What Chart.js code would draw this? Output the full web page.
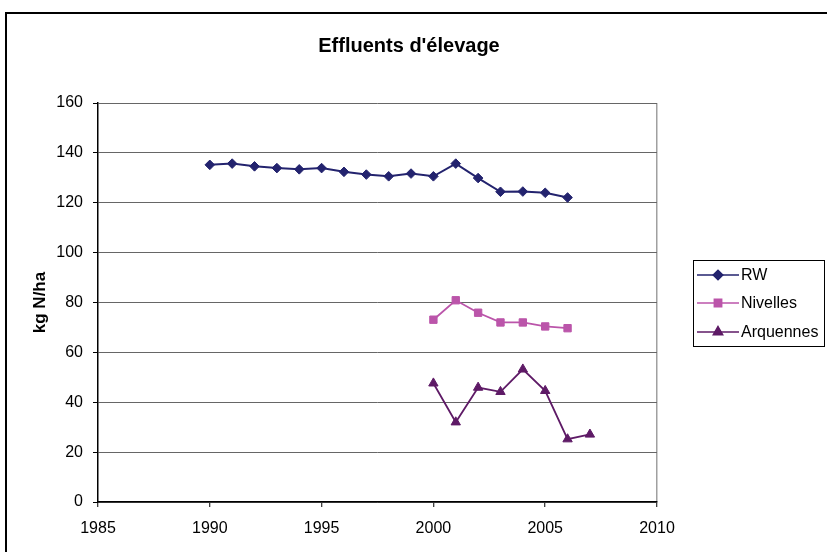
<!DOCTYPE html>
<html>
<head>
<meta charset="utf-8">
<title>Effluents d'élevage</title>
<script src="https://cdn.jsdelivr.net/npm/chart.js@4/dist/chart.umd.min.js"></script>
<style>
  html, body { margin: 0; padding: 0; background: #fff; overflow: hidden; }
  #wrap { position: relative; width: 827px; height: 552px; }
</style>
</head>
<body>
<div id="wrap"><canvas id="chart" width="827" height="552"></canvas></div>
<script>
// Years and values (kg N/ha) per region
const yearsRW = [1990, 1991, 1992, 1993, 1994, 1995, 1996, 1997, 1998, 1999, 2000, 2001, 2002, 2003, 2004, 2005, 2006];
const valuesRW = [135.2, 135.7, 134.6, 133.9, 133.4, 133.9, 132.4, 131.3, 130.6, 131.7, 130.6, 135.7, 129.9, 124.4, 124.5, 124.0, 122.1];

const yearsNivelles = [2000, 2001, 2002, 2003, 2004, 2005, 2006];
const valuesNivelles = [73.1, 80.9, 75.9, 72.0, 72.0, 70.4, 69.7];

const yearsArquennes = [2000, 2001, 2002, 2003, 2004, 2005, 2006, 2007];
const valuesArquennes = [47.6, 32.0, 45.9, 44.2, 53.2, 44.6, 25.2, 27.1];

const seriesNames = ['RW', 'Nivelles', 'Arquennes'];
const chartTitle = "Effluents d'élevage";
const yAxisTitle = 'kg N/ha';

const pairs = (xs, ys) => xs.map((x, i) => ({ x: x, y: ys[i] }));

const FONT = '"Liberation Sans", Arial, sans-serif';

// Outer frame, title and boxed legend
const decorations = {
  id: 'decorations',
  afterDraw(chart) {
    const ctx = chart.ctx;
    ctx.save();
    // frame
    ctx.strokeStyle = '#000';
    ctx.lineWidth = 2;
    ctx.strokeRect(6, 13, 900, 700);
    // title
    ctx.fillStyle = '#000';
    ctx.font = 'bold 20px ' + FONT;
    ctx.textAlign = 'center';
    ctx.textBaseline = 'middle';
    ctx.fillText(chartTitle, 409, 46);
    // legend box
    ctx.lineWidth = 1;
    ctx.strokeRect(693.5, 260.5, 131, 86);
    const rows = [275, 303, 332];
    chart.data.datasets.forEach((ds, i) => {
      const y = rows[i];
      ctx.strokeStyle = ds.borderColor;
      ctx.lineWidth = 1.5;
      ctx.beginPath();
      ctx.moveTo(697, y);
      ctx.lineTo(739, y);
      ctx.stroke();
      Chart.helpers.drawPoint(ctx, {
        pointStyle: ds.pointStyle,
        radius: ds.pointRadius,
        borderWidth: 1
      }, 718, y);
      ctx.fillStyle = ds.pointBackgroundColor;
      ctx.strokeStyle = ds.pointBorderColor;
      ctx.fill();
      ctx.fillStyle = '#000';
      ctx.font = '16px ' + FONT;
      ctx.textAlign = 'left';
      ctx.textBaseline = 'middle';
      ctx.fillText(seriesNames[i], 741, y + 1);
    });
    ctx.restore();
  }
};

new Chart(document.getElementById('chart'), {
  type: 'line',
  data: {
    datasets: [
      {
        label: seriesNames[0],
        data: pairs(yearsRW, valuesRW),
        borderColor: '#23236e',
        backgroundColor: '#23236e',
        pointBackgroundColor: '#23236e',
        pointBorderColor: '#23236e',
        borderWidth: 2,
        pointStyle: 'rectRot',
        pointRadius: 4.8,
        pointBorderWidth: 1
      },
      {
        label: seriesNames[1],
        data: pairs(yearsNivelles, valuesNivelles),
        borderColor: '#bb55aa',
        backgroundColor: '#bb55aa',
        pointBackgroundColor: '#bb55aa',
        pointBorderColor: '#bb55aa',
        borderWidth: 1.8,
        pointStyle: 'rect',
        pointRadius: 5.2,
        pointBorderWidth: 1
      },
      {
        label: seriesNames[2],
        data: pairs(yearsArquennes, valuesArquennes),
        borderColor: '#5e1a66',
        backgroundColor: '#5e1a66',
        pointBackgroundColor: '#5e1a66',
        pointBorderColor: '#5e1a66',
        borderWidth: 1.8,
        pointStyle: 'triangle',
        pointRadius: 5.4,
        pointBorderWidth: 1
      }
    ]
  },
  options: {
    responsive: false,
    animation: false,
    events: [],
    layout: { padding: { top: 103, right: 170, left: 0, bottom: 0 } },
    plugins: {
      legend: { display: false },
      title: { display: false },
      tooltip: { enabled: false }
    },
    scales: {
      x: {
        type: 'linear',
        min: 1985,
        max: 2010,
        ticks: {
          stepSize: 5,
          color: '#000',
          padding: 12,
          font: { family: FONT, size: 16 },
          maxRotation: 0,
          callback: (v) => String(v)
        },
        grid: {
          color: (c) => (c.tick && c.tick.value === 2010 ? '#a0a0a0' : 'rgba(0,0,0,0)'),
          lineWidth: 1.5,
          tickColor: '#000',
          tickLength: 5,
          tickWidth: 1
        },
        border: { color: '#000', width: 1.5 },
        afterFit: (s) => { s.height = 50; }
      },
      y: {
        min: 0,
        max: 160,
        ticks: {
          stepSize: 20,
          color: '#000',
          padding: 10,
          font: { family: FONT, size: 16 }
        },
        grid: {
          color: '#666',
          lineWidth: 1,
          tickColor: '#000',
          tickLength: 5,
          tickWidth: 1
        },
        border: { color: '#000', width: 1.5 },
        title: {
          display: true,
          text: yAxisTitle,
          color: '#000',
          font: { family: FONT, size: 17, weight: 'bold' },
          padding: { top: 30, bottom: 0 }
        },
        afterFit: (s) => { s.width = 98; }
      }
    }
  },
  plugins: [decorations]
});
</script>
</body>
</html>
